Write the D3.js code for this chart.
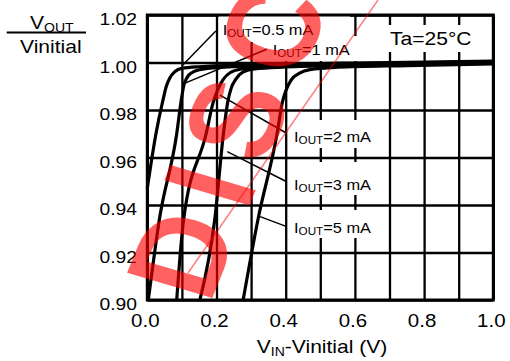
<!DOCTYPE html>
<html><head><meta charset="utf-8">
<script src="https://cdn.jsdelivr.net/npm/d3@7"></script>
<style>
body{margin:0;background:#fff}
svg{display:block}
text{font-family:"Liberation Sans",Arial,Helvetica,sans-serif;fill:#000}
</style>
</head><body>
<svg id="c" width="510" height="361"></svg>
<script>
// ---------- data ----------
const xGridTicks = [0,0.1,0.2,0.3,0.4,0.5,0.6,0.7,0.8,0.9,1.0];
const xLabelTicks = [0,0.2,0.4,0.6,0.8,1.0];
const xTickLabels = ["0.0","0.2","0.4","0.6","0.8","1.0"];
const yTicks = [0.90,0.92,0.94,0.96,0.98,1.00,1.02];
const yTickLabels = ["0.90","0.92","0.94","0.96","0.98","1.00","1.02"];

const seriesNames = ["0.5 mA","1 mA","2 mA","3 mA","5 mA"];
const curve05 = [[0,0.947],[0.025,0.970],[0.045,0.984],[0.055,0.990],[0.065,0.9935],[0.08,0.9962],[0.10,0.9975],[0.15,0.9982],[0.3,0.9989],[0.6,0.9998],[1.0,1.0006]];
const curve1  = [[0.003,0.90],[0.035,0.934],[0.085,0.970],[0.098,0.984],[0.105,0.990],[0.115,0.9937],[0.13,0.9958],[0.16,0.9972],[0.25,0.9982],[0.6,0.9995],[1.0,1.0003]];
const curve2  = [[0.085,0.90],[0.105,0.934],[0.17,0.970],[0.19,0.983],[0.205,0.989],[0.22,0.993],[0.24,0.9958],[0.27,0.9972],[0.35,0.9982],[0.6,0.9992],[1.0,1.0000]];
const curve3  = [[0.152,0.90],[0.195,0.934],[0.22,0.970],[0.232,0.983],[0.242,0.989],[0.256,0.993],[0.275,0.9958],[0.31,0.9973],[0.4,0.9981],[0.6,0.9988],[1.0,0.9997]];
const curve5  = [[0.277,0.90],[0.32,0.934],[0.375,0.970],[0.39,0.983],[0.40,0.988],[0.415,0.9925],[0.44,0.9955],[0.47,0.9970],[0.55,0.9980],[0.75,0.9987],[1.0,0.9994]];
const allCurves = [curve05, curve1, curve2, curve3, curve5];

// annotation label anchors (data units) and leader endpoints
const labelPos = [[0.218,1.0116],[0.3624,1.0032],[0.424,0.9667],[0.424,0.9463],[0.424,0.9283]];
const leaderFrom = [[0.198,1.0133],[0.345,1.0056],[0.403,0.9702],[0.403,0.9498],[0.403,0.9309]];
const leaderTo   = [[0.104,0.9992],[0.109,0.9913],[0.210,0.9863],[0.231,0.9625],[0.326,0.9351]];
const tempLabel = "Ta=25°C";
const tempPos = [0.7014,1.0074];
const watermark = "DISCONTINUED";

// ---------- layout ----------
const plot = {l:147.3, r:493.3, t:15, b:300};
const SX = 1.17; // horizontal text stretch
const svg = d3.select("#c");
const x = d3.scaleLinear().domain([0,1]).range([plot.l, plot.r]);
const y = d3.scaleLinear().domain([0.90,1.02]).range([plot.b, plot.t]);

// gridlines
const gx = svg.append("g").attr("transform",`translate(0,${plot.b})`)
  .call(d3.axisBottom(x).tickValues(xGridTicks).tickSize(-(plot.b-plot.t)).tickFormat(""));
const gy = svg.append("g").attr("transform",`translate(${plot.l},0)`)
  .call(d3.axisLeft(y).tickValues(yTicks).tickSize(-(plot.r-plot.l)).tickFormat(""));
[gx,gy].forEach(g=>{
  g.select(".domain").remove();
  g.selectAll("line").attr("stroke","#000").attr("stroke-width",2.3);
});

// curves
const line = d3.line().x(d=>x(d[0])).y(d=>y(d[1])).curve(d3.curveMonotoneX);
svg.append("g").selectAll("path").data(allCurves).join("path")
  .attr("d",line).attr("fill","none").attr("stroke","#000")
  .attr("stroke-width",3.2).attr("stroke-linejoin","round");

// label white boxes (cover gridlines)
const boxes = [
  [219,15,131,27],[268,36,92,25],[366,25,125,27],
  [290,120,85,28],[290,162,85,33],[290,210,85,28]
];
svg.append("g").selectAll("rect").data(boxes).join("rect")
  .attr("x",d=>d[0]).attr("y",d=>d[1]).attr("width",d=>d[2]).attr("height",d=>d[3])
  .attr("fill","#fff");

// leaders
svg.append("g").selectAll("line").data(leaderFrom).join("line")
  .attr("x1",d=>x(d[0])).attr("y1",d=>y(d[1]))
  .attr("x2",(d,i)=>x(leaderTo[i][0])).attr("y2",(d,i)=>y(leaderTo[i][1]))
  .attr("stroke","#000").attr("stroke-width",1.5);

// helper for stretched text
function stext(px,py,anchor){
  return svg.append("g").attr("transform",`translate(${px},${py}) scale(${SX},1)`)
    .append("text").attr("text-anchor",anchor||"start");
}

// series labels
seriesNames.forEach((nm,i)=>{
  const t = stext(x(labelPos[i][0]), y(labelPos[i][1])).attr("font-size",14);
  t.append("tspan").text("I");
  t.append("tspan").attr("font-size",10).attr("dy",2).text("OUT");
  t.append("tspan").attr("dy",-2).text("=" + nm);
});
stext(x(tempPos[0]), y(tempPos[1])).attr("font-size",18).text(tempLabel);

// frame
svg.append("rect").attr("x",plot.l).attr("y",plot.t)
  .attr("width",plot.r-plot.l).attr("height",plot.b-plot.t)
  .attr("fill","none").attr("stroke","#000").attr("stroke-width",3);

// tick labels
yTicks.forEach((v,i)=>{
  stext(137, y(v)+10,"end").attr("font-size",16.5).text(yTickLabels[i]);
});
xLabelTicks.forEach((v,i)=>{
  stext(x(v)-2, 326.7,"middle").attr("font-size",17.5).text(xTickLabels[i]);
});

// axis titles
const xt = stext(256.7,353).attr("font-size",18);
xt.append("tspan").text("V");
xt.append("tspan").attr("font-size",12).attr("dy",3).text("IN");
xt.append("tspan").attr("dy",-3).text("-Vinitial (V)");

const yt = stext(30,29).attr("font-size",18);
yt.append("tspan").text("V");
yt.append("tspan").attr("font-size",12).attr("dy",3).text("OUT");
svg.append("line").attr("x1",6.7).attr("x2",86).attr("y1",32.5).attr("y2",32.5)
  .attr("stroke","#000").attr("stroke-width",2);
stext(20,52.7).attr("font-size",18).text("Vinitial");

// watermark (stretched like the rest of the picture)
const wm = svg.append("g").attr("transform",`scale(${SX},1) translate(179,305) rotate(-71)`);
wm.append("text").attr("font-size",112).attr("font-weight","bold")
  .style("letter-spacing","17px")
  .style("fill","rgba(255,0,0,0.62)").text(watermark);
svg.append("line").attr("x1",188).attr("y1",273).attr("x2",378).attr("y2",0)
  .attr("stroke","rgba(255,0,0,0.5)").attr("stroke-width",1.5);
</script>
</body></html>
